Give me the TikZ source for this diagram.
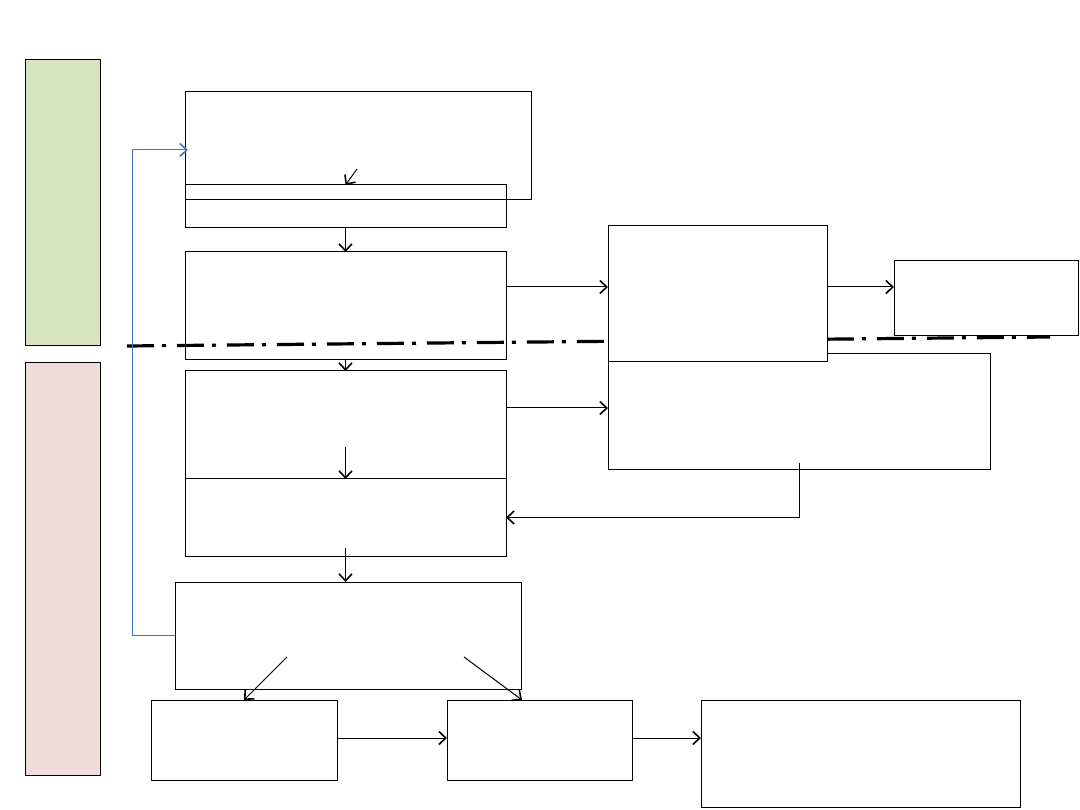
\documentclass[tikz,border=0pt]{standalone}
\usetikzlibrary{arrows.meta}
\definecolor{bargreen}{RGB}{215,228,189}
\definecolor{barpink}{RGB}{242,220,219}
\definecolor{loopblue}{RGB}{68,114,196}
\tikzset{
  box/.style={draw,line width=1pt,inner sep=0pt,outer sep=0pt},
  bar/.style={draw,line width=0.8pt,inner sep=0pt,outer sep=0pt},
  flow/.style={line width=1pt,-{Straight Barb[length=7pt,width=13pt,line width=1.6pt]}},
  split/.style={line width=3.2pt,dash pattern=on 27pt off 8pt on 4pt off 11pt}
}
\begin{document}
\begin{tikzpicture}[x=1pt,y=1pt,yscale=-1,xscale=1]
\useasboundingbox (0,0) rectangle (1080,810);

% side bars
\node[bar,fill=bargreen,minimum width=75pt,minimum height=286pt] (upper) at (62.5,202) {};
\node[bar,fill=barpink,minimum width=75pt,minimum height=413pt] (lower) at (62.5,568.5) {};

% left column
\node[box,minimum width=346pt,minimum height=108pt] (src) at (358,146) {};
\node[box,minimum width=321pt,minimum height=43pt] (recv) at (345.5,206.5) {};
\node[box,minimum width=321pt,minimum height=108pt] (prep) at (345.5,306) {};
\node[box,minimum width=321pt,minimum height=108pt] (proc) at (345.5,425) {};
\node[box,minimum width=321pt,minimum height=77pt] (merge) at (345.5,517.5) {};
\node[box,minimum width=346pt,minimum height=107pt] (check) at (348,635.5) {};

% bottom row
\node[box,minimum width=186pt,minimum height=80pt] (pass) at (244,740) {};
\node[box,minimum width=185pt,minimum height=80pt] (store) at (539.5,740) {};
\node[box,minimum width=319pt,minimum height=107pt] (report) at (860.5,753.5) {};

% right side
\node[box,minimum width=382pt,minimum height=116pt] (assist) at (799,412) {};
\coordinate (sl) at (127,346);
\coordinate (sr) at (1050,337);
\draw[split] (sl) -- (sr);
\node[box,fill=white,minimum width=219pt,minimum height=136pt] (link) at (717.5,294) {};
\node[box,minimum width=184pt,minimum height=75pt] (out) at (986,298.5) {};

% connectors
\coordinate (rowa) at (0,287);
\coordinate (rowb) at (0,408);
\coordinate (rowc) at (0,738);
\coordinate (inA) at (357,169);
\coordinate (inD) at (345.5,447);
\coordinate (inE) at (345.5,548);
\coordinate (inFl) at (287,657);
\coordinate (inFr) at (464,657);
\coordinate (inL) at (799,463);
\coordinate (fbk) at (132,150);

\draw[flow] (inA) -- (recv.north);
\draw[flow] (recv.south) -- (prep.north);
\draw[flow] (prep.south) -- (proc.north);
\draw[flow] (inD) -- (merge.north);
\draw[flow] (inE) -- (inE |- check.north);
\draw[flow] (inFl) -- (pass.north);
\draw[flow] (inFr) -- (522,700);
\draw[flow] (pass.east |- rowc) -- (store.west |- rowc);
\draw[flow] (store.east |- rowc) -- (report.west |- rowc);
\draw[flow] (prep.east |- rowa) -- (link.west |- rowa);
\draw[flow] (link.east |- rowa) -- (out.west |- rowa);
\draw[flow] (proc.east |- rowb) -- (assist.west |- rowb);
\draw[flow] (inL) |- (merge.east);
\draw[flow,loopblue] (check.west) -| (fbk) -- ([xshift=3pt]fbk -| src.west);

\end{tikzpicture}
\end{document}
